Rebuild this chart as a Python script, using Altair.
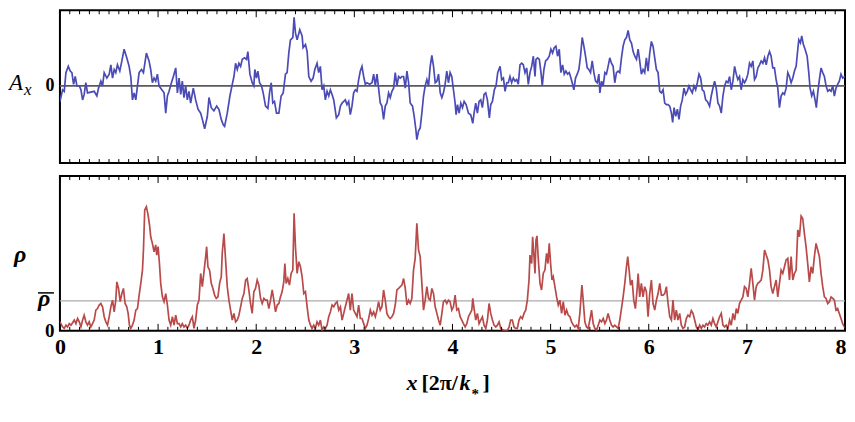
import altair as alt
import pandas as pd

# ---------------- data: A_x (top panel) ----------------
AX_X_1 = [0.000, 0.027, 0.044, 0.061, 0.085, 0.105, 0.122, 0.139, 0.156, 0.173,
          0.197, 0.214, 0.231, 0.247, 0.264, 0.281, 0.315, 0.349, 0.376, 0.393,
          0.417, 0.434, 0.451, 0.478, 0.502, 0.519, 0.536, 0.553, 0.569, 0.586,
          0.610, 0.631, 0.654, 0.681, 0.705, 0.722, 0.739, 0.756, 0.773, 0.790,
          0.807, 0.831, 0.851, 0.881, 0.908, 0.925, 0.942, 0.959, 0.976, 0.993,
          1.010, 1.027, 1.061, 1.078, 1.095, 1.112, 1.136, 1.156, 1.180, 1.197,
          1.214, 1.231, 1.247, 1.264, 1.281, 1.298, 1.315, 1.332, 1.359, 1.383,
          1.407, 1.434, 1.451, 1.475, 1.502, 1.519, 1.542, 1.569, 1.597, 1.620,
          1.644, 1.664, 1.678, 1.705, 1.732, 1.756, 1.773, 1.790, 1.807, 1.824,
          1.841, 1.858, 1.881, 1.902, 1.915, 1.936]
AX_Y_1 = [-0.20, -0.05, -0.07, 0.17, 0.25, 0.19, 0.17, 0.02, 0.12, 0.00,
          0.00, -0.05, -0.18, -0.11, 0.04, -0.09, -0.08, -0.07, -0.13, -0.03,
          0.06, 0.00, 0.17, 0.10, 0.15, 0.27, 0.10, 0.21, 0.17, 0.27,
          0.19, 0.32, 0.47, 0.36, 0.25, 0.12, -0.18, -0.09, -0.18, 0.00,
          0.17, 0.21, 0.17, 0.42, 0.32, 0.21, 0.04, 0.10, 0.06, 0.15,
          0.00, -0.03, -0.09, -0.35, -0.13, -0.07, 0.04, 0.12, 0.23, -0.09,
          0.10, -0.11, 0.06, -0.15, 0.00, -0.18, -0.07, -0.22, -0.03, -0.18,
          -0.30, -0.35, -0.43, -0.55, -0.39, -0.15, -0.28, -0.32, -0.26, -0.30,
          -0.43, -0.50, -0.52, -0.35, -0.13, 0.02, 0.12, 0.29, 0.21, 0.29,
          0.25, 0.34, 0.36, 0.34, 0.44, 0.15]

AX_X_2 = [1.959, 1.976, 1.986, 2.003, 2.017, 2.034, 2.054, 2.071, 2.095, 2.119,
          2.136, 2.153, 2.169, 2.186, 2.207, 2.231, 2.254, 2.275, 2.298, 2.315,
          2.332, 2.349, 2.373, 2.386, 2.400, 2.417, 2.444, 2.468, 2.478, 2.502,
          2.519, 2.536, 2.559, 2.580, 2.597, 2.620, 2.637, 2.654, 2.671, 2.688,
          2.705, 2.722, 2.739, 2.756, 2.773, 2.790, 2.817, 2.841, 2.858, 2.875,
          2.892, 2.908, 2.925, 2.942, 2.959, 2.976, 2.993, 3.010, 3.027, 3.044,
          3.061, 3.078, 3.095, 3.112, 3.129, 3.156, 3.180, 3.197, 3.214, 3.231,
          3.247, 3.264, 3.281, 3.298, 3.315, 3.332, 3.349, 3.366, 3.383, 3.400,
          3.417, 3.434, 3.451, 3.468, 3.485, 3.502, 3.519, 3.536, 3.553, 3.569,
          3.593, 3.610, 3.627, 3.637, 3.654, 3.671, 3.688, 3.705, 3.722, 3.739,
          3.756, 3.773, 3.790, 3.807, 3.824, 3.841, 3.858, 3.875, 3.892, 3.908,
          3.925, 3.942, 3.959]
AX_Y_2 = [0.04, 0.00, 0.21, 0.10, 0.19, 0.04, 0.00, -0.09, -0.26, -0.29,
          -0.09, 0.04, -0.22, -0.20, -0.35, -0.35, -0.13, -0.09, 0.15, 0.17,
          0.42, 0.59, 0.62, 0.88, 0.68, 0.59, 0.72, 0.64, 0.49, 0.53,
          0.44, 0.12, 0.06, 0.10, 0.21, 0.29, 0.17, 0.25, -0.05, 0.00,
          -0.18, -0.07, -0.13, -0.05, -0.11, -0.18, -0.41, -0.37, -0.26, -0.22,
          -0.20, -0.18, -0.24, -0.20, -0.37, -0.26, -0.09, -0.05, -0.07, 0.08,
          0.19, 0.25, 0.12, 0.02, 0.04, 0.02, 0.04, 0.15, 0.00, 0.15,
          -0.03, -0.22, -0.26, -0.43, -0.26, -0.22, -0.09, -0.15, -0.07, -0.03,
          0.17, 0.00, 0.12, 0.10, 0.12, 0.12, -0.03, 0.19, 0.04, -0.22,
          -0.26, -0.39, -0.56, -0.69, -0.58, -0.54, -0.35, -0.13, 0.00, 0.08,
          0.00, 0.25, 0.39, 0.25, 0.04, 0.06, 0.15, -0.09, -0.15, -0.09,
          0.02, 0.19, 0.04]

AX_X_3 = [3.976, 3.993, 4.010, 4.027, 4.037, 4.051, 4.068, 4.085, 4.102, 4.119,
          4.139, 4.163, 4.186, 4.207, 4.220, 4.237, 4.254, 4.271, 4.288, 4.305,
          4.322, 4.339, 4.356, 4.376, 4.390, 4.407, 4.427, 4.444, 4.461, 4.485,
          4.502, 4.519, 4.536, 4.553, 4.569, 4.586, 4.603, 4.620, 4.637, 4.654,
          4.671, 4.688, 4.705, 4.722, 4.739, 4.756, 4.773, 4.790, 4.807, 4.824,
          4.841, 4.851, 4.868, 4.885, 4.902, 4.915, 4.932, 4.949, 4.966, 4.986,
          5.003, 5.020, 5.037, 5.054, 5.071, 5.088, 5.105, 5.122, 5.139, 5.156,
          5.173, 5.190, 5.207, 5.224, 5.237, 5.254, 5.271, 5.288, 5.305, 5.322,
          5.339, 5.356, 5.373, 5.390, 5.407, 5.424, 5.441, 5.458, 5.475, 5.492,
          5.502, 5.519, 5.536, 5.553, 5.569, 5.586, 5.603, 5.620, 5.637, 5.654,
          5.671, 5.688, 5.705, 5.722, 5.739, 5.756, 5.773, 5.790, 5.807, 5.824,
          5.841, 5.858, 5.875, 5.892, 5.908, 5.925, 5.942, 5.959, 5.976, 5.993,
          6.010, 6.027, 6.044]
AX_Y_3 = [0.17, 0.12, -0.05, -0.22, -0.37, -0.24, -0.35, -0.22, -0.28, -0.20,
          -0.24, -0.35, -0.37, -0.48, -0.35, -0.22, -0.35, -0.20, -0.18, -0.28,
          -0.11, -0.09, -0.18, -0.41, -0.24, -0.20, -0.05, 0.00, 0.17, 0.25,
          0.08, 0.10, -0.07, 0.04, 0.04, 0.12, 0.04, 0.10, 0.06, 0.08,
          0.02, 0.27, 0.29, 0.27, 0.17, 0.23, 0.02, 0.17, 0.25, 0.38,
          0.12, 0.34, 0.36, 0.34, 0.17, 0.00, 0.21, 0.32, 0.34, 0.38,
          0.47, 0.42, 0.49, 0.51, 0.38, 0.47, 0.17, 0.27, 0.15, 0.19,
          0.15, 0.17, 0.10, 0.02, -0.05, 0.10, 0.15, 0.21, 0.38, 0.62,
          0.51, 0.38, 0.23, 0.21, 0.17, 0.32, 0.17, 0.06, 0.04, 0.15,
          -0.09, 0.06, 0.00, 0.17, 0.15, 0.25, 0.36, 0.29, 0.25, 0.04,
          0.17, 0.19, 0.17, 0.36, 0.51, 0.59, 0.62, 0.71, 0.59, 0.55,
          0.44, 0.38, 0.34, 0.47, 0.32, 0.15, 0.21, 0.17, 0.36, 0.19,
          0.42, 0.57, 0.51]

AX_X_4 = [6.061, 6.078, 6.095, 6.112, 6.129, 6.146, 6.163, 6.180, 6.197, 6.214,
          6.231, 6.244, 6.258, 6.275, 6.292, 6.308, 6.325, 6.342, 6.359, 6.376,
          6.393, 6.410, 6.427, 6.444, 6.461, 6.478, 6.495, 6.512, 6.529, 6.546,
          6.563, 6.580, 6.597, 6.620, 6.637, 6.654, 6.671, 6.688, 6.705, 6.722,
          6.739, 6.756, 6.773, 6.790, 6.807, 6.824, 6.841, 6.858, 6.875, 6.892,
          6.908, 6.925, 6.942, 6.959, 6.976, 6.993, 7.010, 7.027, 7.044, 7.061,
          7.078, 7.095, 7.112, 7.129, 7.146, 7.163, 7.180, 7.197, 7.214, 7.231,
          7.247, 7.264, 7.281, 7.298, 7.315, 7.332, 7.349, 7.366, 7.383, 7.400,
          7.417, 7.434, 7.451, 7.468, 7.485, 7.502, 7.519, 7.529, 7.546, 7.559,
          7.576, 7.593, 7.614, 7.631, 7.644, 7.661, 7.678, 7.695, 7.708, 7.722,
          7.739, 7.756, 7.773, 7.790, 7.807, 7.824, 7.841, 7.858, 7.875, 7.892,
          7.908, 7.925, 7.942, 7.959, 7.976, 8.000]
AX_Y_4 = [0.36, 0.21, 0.17, -0.07, -0.09, -0.05, -0.22, -0.24, -0.24, -0.26,
          -0.35, -0.47, -0.28, -0.39, -0.30, -0.43, -0.26, -0.18, -0.03, -0.11,
          -0.07, 0.00, -0.05, -0.09, 0.00, -0.05, 0.04, 0.15, 0.10, -0.05,
          -0.07, -0.18, -0.20, -0.26, -0.13, -0.03, 0.06, -0.03, -0.22, -0.26,
          -0.35, -0.13, 0.00, 0.06, 0.04, 0.12, -0.05, 0.06, 0.25, 0.15,
          0.08, 0.12, -0.05, 0.08, 0.04, 0.08, 0.15, 0.29, 0.25, 0.32,
          0.08, 0.12, 0.23, 0.27, 0.32, 0.29, 0.36, 0.27, 0.38, 0.44,
          0.38, 0.23, 0.23, 0.08, -0.03, -0.28, -0.13, -0.09, -0.11, -0.03,
          0.17, 0.12, 0.04, 0.10, 0.19, 0.25, 0.47, 0.59, 0.55, 0.64,
          0.53, 0.47, 0.38, 0.17, -0.03, -0.13, -0.07, -0.18, -0.28, -0.09,
          0.08, 0.23, 0.17, 0.12, 0.00, -0.07, -0.05, -0.07, 0.00, -0.13,
          -0.03, 0.02, 0.06, 0.15, 0.10, 0.12]

# ---------------- data: rho (bottom panel), in units of rho-bar ----------------
RHO_X_1 = [0.000, 0.027, 0.044, 0.061, 0.078, 0.095, 0.112, 0.129, 0.146, 0.163,
           0.180, 0.197, 0.214, 0.231, 0.247, 0.264, 0.281, 0.298, 0.315, 0.332,
           0.349, 0.366, 0.383, 0.400, 0.417, 0.434, 0.451, 0.468, 0.485, 0.502,
           0.519, 0.536, 0.553, 0.569, 0.580, 0.597, 0.614, 0.631, 0.647, 0.664,
           0.681, 0.695, 0.708, 0.722, 0.739, 0.756, 0.773, 0.790, 0.807, 0.824,
           0.841, 0.851, 0.864, 0.881, 0.898, 0.915, 0.925, 0.942, 0.959, 0.976,
           0.986, 1.000, 1.014, 1.027, 1.044, 1.061, 1.078, 1.095, 1.112, 1.129,
           1.146, 1.163, 1.180, 1.197, 1.214, 1.231, 1.247, 1.264, 1.281, 1.298,
           1.315, 1.332, 1.349, 1.366, 1.383, 1.400, 1.417, 1.434, 1.451, 1.468,
           1.485, 1.495, 1.508, 1.525, 1.542, 1.559, 1.576, 1.593, 1.610, 1.627,
           1.644, 1.654, 1.671, 1.688, 1.705, 1.722, 1.739, 1.756, 1.773, 1.790,
           1.807, 1.824, 1.841, 1.858, 1.875, 1.892, 1.908, 1.925, 1.942]
RHO_Y_1 = [0.30, 0.13, 0.08, 0.19, 0.13, 0.24, 0.19, 0.27, 0.36, 0.24,
           0.41, 0.30, 0.13, 0.36, 0.52, 0.30, 0.19, 0.30, 0.13, 0.24,
           0.36, 0.69, 0.74, 0.86, 0.91, 0.80, 0.47, 0.30, 0.19, 0.47,
           0.80, 1.02, 0.63, 1.02, 1.63, 1.41, 0.97, 1.24, 1.41, 0.91,
           0.80, 0.58, 0.19, 0.08, 0.19, 0.36, 0.69, 0.74, 1.19, 1.58,
           2.02, 2.69, 4.02, 4.13, 3.86, 3.47, 3.13, 2.91, 2.63, 2.86,
           2.52, 2.80, 2.24, 1.58, 1.13, 0.97, 1.24, 0.86, 0.36, 0.19,
           0.47, 0.19, 0.52, 0.24, 0.24, 0.13, 0.24, 0.13, 0.19, 0.08,
           0.19, 0.36, 0.47, 0.08, 0.36, 0.86, 1.02, 1.91, 1.47, 1.97,
           2.47, 2.80, 2.13, 2.02, 1.58, 1.41, 1.19, 1.08, 1.13, 1.58,
           1.80, 2.58, 3.24, 2.36, 1.47, 1.02, 0.69, 0.36, 0.58, 0.30,
           0.36, 0.52, 0.80, 1.08, 1.24, 1.69, 1.74, 1.36, 0.91]

RHO_X_2 = [1.959, 1.976, 1.993, 2.010, 2.027, 2.044, 2.061, 2.078, 2.095, 2.112,
           2.129, 2.146, 2.163, 2.180, 2.197, 2.214, 2.231, 2.247, 2.264, 2.281,
           2.292, 2.305, 2.322, 2.339, 2.356, 2.373, 2.386, 2.400, 2.417, 2.434,
           2.451, 2.468, 2.485, 2.502, 2.519, 2.536, 2.553, 2.569, 2.586, 2.603,
           2.620, 2.637, 2.654, 2.671, 2.688, 2.705, 2.722, 2.739, 2.756, 2.773,
           2.790, 2.807, 2.824, 2.841, 2.858, 2.875, 2.892, 2.908, 2.925, 2.942,
           2.959, 2.976, 2.993, 3.010, 3.027, 3.044, 3.061, 3.078, 3.095, 3.112,
           3.129, 3.146, 3.163, 3.180, 3.197, 3.214, 3.231, 3.247, 3.264, 3.281,
           3.298, 3.315, 3.332, 3.349, 3.366, 3.383, 3.400, 3.417, 3.434, 3.451,
           3.468, 3.485, 3.502, 3.519, 3.536, 3.553, 3.569, 3.586, 3.603, 3.620,
           3.637, 3.654, 3.671, 3.688, 3.705, 3.722, 3.739, 3.756, 3.773, 3.790,
           3.807, 3.824, 3.841, 3.858, 3.875, 3.892, 3.908, 3.925, 3.942, 3.959]
RHO_Y_2 = [0.58, 1.30, 1.41, 1.69, 1.52, 1.08, 0.91, 1.08, 1.02, 1.02,
           0.74, 1.02, 1.36, 1.02, 0.63, 0.86, 0.91, 1.13, 1.30, 1.63,
           2.24, 1.58, 1.74, 1.52, 1.91, 2.02, 3.91, 2.80, 1.91, 2.30,
           2.13, 1.80, 1.24, 1.30, 0.80, 0.36, 0.19, 0.08, 0.19, 0.08,
           0.30, 0.19, 0.36, 0.02, 0.13, 0.08, 0.19, 0.47, 0.63, 0.86,
           0.80, 0.91, 0.97, 0.69, 0.80, 0.36, 0.58, 0.80, 1.02, 1.24,
           0.69, 1.24, 0.69, 0.58, 0.47, 0.86, 0.41, 0.41, 0.24, 0.08,
           0.19, 0.41, 0.69, 0.52, 0.63, 0.47, 0.69, 0.97, 0.69, 0.80,
           1.36, 1.02, 0.58, 0.47, 0.41, 0.47, 0.58, 0.86, 1.36, 1.41,
           1.47, 1.52, 1.74, 1.41, 0.86, 1.02, 0.91, 1.08, 2.02, 2.41,
           3.58, 2.69, 2.47, 1.58, 0.69, 1.02, 1.47, 1.08, 1.02, 1.41,
           1.24, 0.80, 0.58, 0.36, 0.19, 0.58, 0.97, 1.02, 0.91, 1.02]

RHO_X_3 = [3.976, 3.993, 4.010, 4.027, 4.044, 4.061, 4.078, 4.095, 4.112, 4.129,
           4.146, 4.163, 4.180, 4.197, 4.207, 4.220, 4.237, 4.254, 4.271, 4.288,
           4.305, 4.322, 4.339, 4.356, 4.373, 4.390, 4.407, 4.424, 4.441, 4.458,
           4.475, 4.492, 4.508, 4.525, 4.542, 4.559, 4.576, 4.593, 4.610, 4.627,
           4.644, 4.661, 4.678, 4.695, 4.712, 4.729, 4.746, 4.763, 4.780, 4.790,
           4.807, 4.817, 4.831, 4.841, 4.851, 4.861, 4.875, 4.892, 4.908, 4.925,
           4.942, 4.959, 4.973, 4.986, 5.000, 5.014, 5.027, 5.044, 5.061, 5.078,
           5.095, 5.112, 5.129, 5.146, 5.163, 5.180, 5.197, 5.214, 5.231, 5.247,
           5.264, 5.281, 5.298, 5.319, 5.332, 5.349, 5.366, 5.383, 5.400, 5.417,
           5.434, 5.451, 5.468, 5.485, 5.502, 5.519, 5.536, 5.553, 5.569, 5.586,
           5.603, 5.620, 5.637, 5.654, 5.671, 5.688, 5.705, 5.722, 5.739, 5.756,
           5.773, 5.786, 5.800, 5.814, 5.831, 5.847, 5.864, 5.881, 5.892, 5.908,
           5.925, 5.942, 5.959]
RHO_Y_3 = [0.97, 0.69, 0.80, 1.19, 0.69, 0.74, 0.47, 0.36, 0.24, 0.13,
           0.24, 0.47, 0.58, 0.69, 1.08, 0.74, 0.36, 0.58, 0.24, 0.36,
           0.47, 0.19, 0.08, 0.36, 0.91, 0.58, 0.36, 0.19, 0.13, 0.19,
           0.30, 0.08, 0.04, 0.02, 0.00, 0.02, 0.11, 0.36, 0.36, 0.13,
           0.08, 0.08, 0.36, 0.47, 0.41, 0.58, 0.69, 1.02, 1.69, 2.52,
           2.24, 3.13, 2.47, 1.91, 3.02, 3.16, 2.36, 1.58, 1.36, 1.91,
           2.02, 2.58, 2.24, 2.91, 2.24, 1.69, 1.80, 1.47, 1.13, 0.86,
           1.02, 0.58, 0.97, 0.52, 0.69, 0.52, 0.47, 0.30, 0.19, 0.13,
           0.19, 0.08, 0.58, 1.52, 1.02, 0.30, 0.13, 0.08, 0.36, 0.69,
           0.24, 0.08, 0.02, 0.19, 0.36, 0.30, 0.41, 0.24, 0.36, 0.58,
           0.36, 0.19, 0.13, 0.19, 0.13, 0.08, 0.36, 0.74, 1.13, 1.58,
           2.13, 2.47, 2.02, 1.52, 1.69, 1.02, 0.74, 1.36, 1.91, 1.13,
           1.58, 1.13, 1.47]

RHO_X_4 = [5.976, 5.993, 6.010, 6.027, 6.044, 6.061, 6.078, 6.095, 6.112, 6.129,
           6.146, 6.163, 6.180, 6.197, 6.214, 6.231, 6.247, 6.264, 6.281, 6.298,
           6.315, 6.332, 6.349, 6.366, 6.383, 6.400, 6.417, 6.434, 6.451, 6.468,
           6.485, 6.502, 6.519, 6.536, 6.553, 6.569, 6.586, 6.603, 6.620, 6.637,
           6.654, 6.671, 6.688, 6.705, 6.722, 6.739, 6.756, 6.773, 6.790, 6.807,
           6.824, 6.841, 6.858, 6.875, 6.892, 6.908, 6.925, 6.942, 6.959, 6.976,
           6.993, 7.010, 7.027, 7.044, 7.061, 7.078, 7.095, 7.112, 7.129, 7.146,
           7.163, 7.180, 7.197, 7.214, 7.231, 7.247, 7.264, 7.281, 7.298, 7.315,
           7.332, 7.349, 7.366, 7.383, 7.400, 7.417, 7.434, 7.451, 7.468, 7.485,
           7.502, 7.519, 7.536, 7.553, 7.569, 7.586, 7.603, 7.620, 7.637, 7.654,
           7.671, 7.688, 7.705, 7.722, 7.739, 7.756, 7.773, 7.790, 7.807, 7.824,
           7.841, 7.858, 7.875, 7.892, 7.908, 7.925, 7.942, 7.959, 7.976, 8.000]
RHO_Y_4 = [1.30, 0.47, 1.24, 1.69, 0.91, 0.69, 1.02, 1.24, 1.58, 1.19,
           1.19, 1.24, 1.47, 0.91, 0.47, 0.36, 1.02, 0.36, 0.69, 0.36,
           0.58, 0.19, 0.08, 0.13, 0.41, 0.52, 0.47, 0.67, 0.58, 0.36,
           0.13, 0.04, 0.19, 0.08, 0.19, 0.13, 0.24, 0.19, 0.30, 0.19,
           0.41, 0.24, 0.13, 0.30, 0.47, 0.58, 0.19, 0.13, 0.19, 0.08,
           0.36, 0.19, 0.58, 0.36, 0.74, 0.58, 0.91, 1.02, 1.13, 1.47,
           1.41, 1.13, 1.58, 2.08, 1.58, 1.02, 1.47, 1.58, 1.63, 1.69,
           2.02, 2.69, 2.52, 2.36, 2.02, 1.47, 1.24, 1.47, 1.69, 1.13,
           1.58, 2.02, 1.91, 2.13, 2.36, 2.41, 1.69, 2.47, 1.69, 1.91,
           2.02, 3.36, 3.13, 3.82, 3.74, 3.24, 2.80, 2.24, 1.63, 2.13,
           1.91, 2.47, 2.91, 2.69, 2.47, 1.91, 1.47, 1.13, 1.08, 0.91,
           0.97, 1.13, 1.08, 1.02, 0.69, 0.74, 0.58, 0.41, 0.24, 0.10]

AX_REF = [0.0]          # A_x = 0 reference line
RHO_REF = [1.0]         # rho = rho-bar reference line
X_TICK_LABELS = [0, 1, 2, 3, 4, 5, 6, 7, 8]
MAJOR_TICKS = [0, 1, 2, 3, 4, 5, 6, 7, 8]
MINOR_TICKS = [round(i / 10, 1) for i in range(81) if i % 10 != 0]


def frame(xs, ys, name):
    n = min(len(xs), len(ys))
    return pd.DataFrame({"x": xs[:n], name: ys[:n]})


ax_df = pd.concat([frame(AX_X_1, AX_Y_1, "a"), frame(AX_X_2, AX_Y_2, "a"),
                   frame(AX_X_3, AX_Y_3, "a"), frame(AX_X_4, AX_Y_4, "a")],
                  ignore_index=True)
rho_df = pd.concat([frame(RHO_X_1, RHO_Y_1, "r"), frame(RHO_X_2, RHO_Y_2, "r"),
                    frame(RHO_X_3, RHO_Y_3, "r"), frame(RHO_X_4, RHO_Y_4, "r")],
                   ignore_index=True)

# ---------------- style ----------------
W = 786
H_TOP = 153
H_BOT = 155
FONT = "Liberation Serif"
BLUE = "#4b4bb6"
RED = "#b94a4a"

xscale = alt.Scale(domain=[0, 8], nice=False, zero=False)
ax_scale = alt.Scale(domain=[-0.99, 0.97], nice=False, zero=False)
rho_scale = alt.Scale(domain=[0, 5.15], nice=False, zero=False)

x_axis_bottom = alt.Axis(
    values=X_TICK_LABELS, ticks=False, domain=False, grid=False,
    labelFont=FONT, labelFontWeight="bold", labelFontSize=22,
    labelColor="black", labelPadding=6, title=None, labelFlush=False, format="d",
    labelAlign={"condition": {"test": "datum.value == 8", "value": "right"},
                "value": "center"},
    labelOffset={"condition": {"test": "datum.value == 8", "value": 1},
                 "value": 0},
)


def tick_layers(H, axis):
    layers = []
    for vals, L in ((MAJOR_TICKS, 7), (MINOR_TICKS, 4)):
        df = pd.DataFrame({"x": vals})
        base = alt.Chart(df).mark_rule(color="black", strokeWidth=1)
        xe = alt.X("x:Q", scale=xscale, axis=axis)
        layers.append(base.encode(x=xe, y=alt.value(0), y2=alt.value(L)))
        layers.append(base.encode(x=xe, y=alt.value(H - L), y2=alt.value(H)))
    return layers


def label(text, x, y, size, style="normal", weight="normal", align="left"):
    return alt.Chart(pd.DataFrame({"k": [0]})).mark_text(
        text=text, font=FONT, fontSize=size, fontStyle=style, fontWeight=weight,
        align=align, baseline="alphabetic", color="black"
    ).encode(x=alt.value(x), y=alt.value(y))


# ---------------- top panel ----------------
top_line = alt.Chart(ax_df).mark_line(color=BLUE, strokeWidth=1.7, clip=True).encode(
    x=alt.X("x:Q", scale=xscale, axis=None),
    y=alt.Y("a:Q", scale=ax_scale,
            axis=alt.Axis(values=[0], ticks=False, domain=False, grid=False,
                          labelFont=FONT, labelFontWeight="bold", labelFontSize=18,
                          labelColor="black", labelPadding=6, title=None, format="d")),
)
top_ref = alt.Chart(pd.DataFrame({"a": AX_REF})).mark_rule(
    color="#5a5a5a", strokeWidth=1.6).encode(y=alt.Y("a:Q", scale=ax_scale))

top = alt.layer(
    top_ref, top_line, *tick_layers(H_TOP, None),
    label("A", -51, 80, 23, style="italic"),
    label("x", -36, 85, 17, style="italic"),
).properties(width=W, height=H_TOP)

# ---------------- bottom panel ----------------
bot_line = alt.Chart(rho_df).mark_line(color=RED, strokeWidth=1.7, clip=True).encode(
    x=alt.X("x:Q", scale=xscale, axis=x_axis_bottom),
    y=alt.Y("r:Q", scale=rho_scale,
            axis=alt.Axis(values=[0], ticks=False, domain=False, grid=False,
                          labelFont=FONT, labelFontWeight="bold", labelFontSize=19,
                          labelColor="black", labelPadding=6, title=None, format="d")),
)
bot_ref = alt.Chart(pd.DataFrame({"r": RHO_REF})).mark_rule(
    color="#ababab", strokeWidth=1.2).encode(y=alt.Y("r:Q", scale=rho_scale))

overline = alt.Chart(pd.DataFrame({"k": [0]})).mark_rule(
    color="black", strokeWidth=1.5).encode(
    x=alt.value(-22), x2=alt.value(-6), y=alt.value(117))

bottom = alt.layer(
    bot_ref, bot_line, *tick_layers(H_BOT, x_axis_bottom),
    label("ρ", -46, 86, 24, style="italic", weight="bold"),
    label("ρ", -22, 130, 24, style="italic", weight="bold"),
    overline,
    label("x", 347, 214, 22, style="italic", weight="bold"),
    label("[2π/", 362, 214, 22, weight="bold"),
    label("k", 400, 214, 22, style="italic", weight="bold"),
    label("*", 412, 223, 15, weight="bold"),
    label("]", 423, 214, 22, weight="bold"),
).properties(width=W, height=H_BOT)

chart = alt.vconcat(top, bottom, spacing=9).properties(
    padding=0, background="white"
).configure_view(
    stroke="black", strokeWidth=2
)

chart.save("out.html", embed_options={"renderer": "svg", "actions": False})
